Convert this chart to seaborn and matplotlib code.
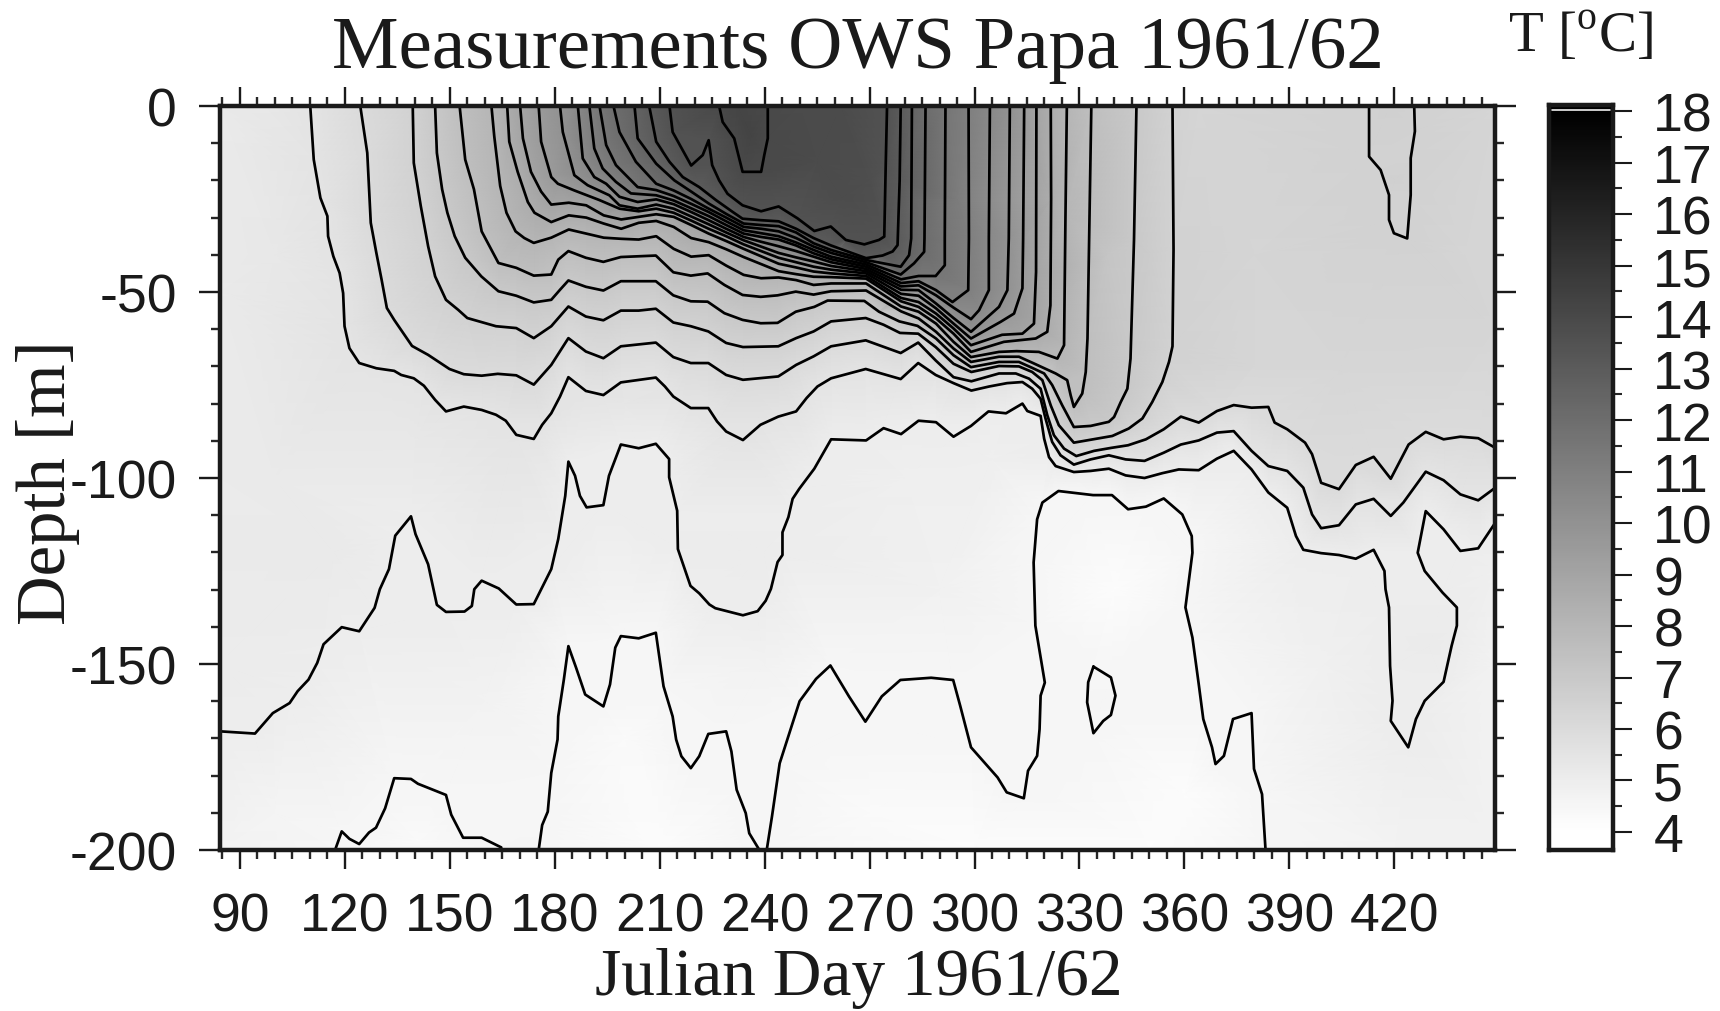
import numpy as np
import pandas as pd
import matplotlib
matplotlib.use("Agg")
import matplotlib.pyplot as plt
from matplotlib.ticker import MultipleLocator, FixedLocator
from matplotlib.colors import Normalize
import seaborn as sns

# Isotherms: (Julian day, depth in m)
T_4_5_a = [(117.2,-200),(119.1,-195),(121.3,-197),(124.1,-198.4),(126.9,-195.3),(128.9,-194),(131.5,-188.8),(134.1,-180.7),(138.9,-180.9),(140.9,-182.2),(148.9,-185.2),(150.4,-190.5),(153.8,-196.7),(159.1,-196.7),(164.7,-199.3),(164.7,-200)]
T_4_5_b = [(175.4,-200),(176.4,-193.3),(178,-189.7),(179,-179.3),(180.8,-170.3),(181,-164.1),(182.6,-154.2),(183.9,-145.2),(186.1,-151),(188.7,-158.2),(193.9,-161.4),(195.8,-155.5),(197.3,-145.6),(198.9,-142.5),(204,-143.1),(208.9,-141.6),(211.1,-156),(213.7,-164.1),(214.7,-170.3),(216.2,-174.8),(218.9,-178),(221.3,-174.8),(223.9,-168.8),(229,-168.1),(230.5,-173.5),(232,-183.8),(234.6,-190.1),(235.6,-195.5),(238.5,-200),(240.6,-200),(242.1,-191),(244.3,-176.7),(250,-160),(254.7,-154),(258.8,-150.4),(264.1,-158.7),(268.8,-165.5),(273.5,-158.7),(278.8,-154.3),(287.6,-153.7),(293.9,-154.3),(295.9,-161.2),(299,-172.4),(306.6,-180.5),(309.2,-184.5),(314.1,-186.1),(315.3,-178.7),(317.9,-174.7),(318.6,-167.5),(318.9,-158.5),(320.1,-155),(317.4,-139.7),(316.9,-122.7),(317.9,-111.1),(319.4,-106.6),(324,-103.5),(333.9,-104.6),(339.3,-104.6),(343.9,-108.4),(349,-107.7),(354.1,-105.5),(359.4,-109.8),(362.1,-115.6),(362.3,-120.1),(360.3,-134.8),(362.3,-142.9),(364.1,-155.4),(365.4,-164.8),(367.9,-172.4),(368.9,-176.9),(371.3,-174.7),(373.9,-164.8),(379.2,-163.2),(379.9,-178.2),(382.2,-185),(383.2,-200)]
T_4_5_c = [(334,-150.7),(339,-153.6),(340.3,-158.5),(339,-163.7),(336.8,-165.3),(334,-168.6),(332.2,-160.3),(332.5,-154.9),(334,-150.7)]
T_5_0 = [(84.3,-168.1),(94.3,-168.7),(99.4,-163.2),(104.2,-160.5),(106.5,-157.3),(109.6,-154.2),(112.1,-149.7),(113.9,-144.7),(119.1,-140.1),(124.1,-141.2),(128.5,-134.9),(130,-129.9),(132.6,-124.5),(134.4,-115.5),(138.9,-110.3),(140.2,-115.1),(143.8,-123.2),(146.3,-134.1),(148.9,-136),(154.2,-135.9),(156.3,-134.4),(157,-129.9),(159.1,-127.6),(164,-129.7),(169,-134),(174,-133.9),(179,-124.5),(181,-116.4),(183,-104.8),(183.9,-95.6),(185.8,-99.4),(187.2,-104.8),(189.1,-107.9),(193.9,-107.3),(195.5,-99.4),(198.9,-91),(204,-92),(208.9,-90.8),(212.7,-94.9),(212.7,-99.8),(215,-108.8),(215.2,-119.1),(218.8,-129),(221.3,-131),(224.2,-134),(225.9,-135),(233.8,-136.9),(238,-135.8),(240.3,-133),(241.8,-129.8),(243.7,-122.6),(245.1,-120.7),(245.1,-114.6),(246.8,-110.5),(248,-105.6),(249.9,-102.9),(254.2,-97.5),(259,-89.6),(269,-89.9),(274,-86.6),(279,-88.2),(284,-84.6),(289,-85),(294,-88.9),(299,-86),(304,-82.1),(309,-82.6),(313.7,-80),(315.1,-82),(318.9,-83.3),(319.9,-89.4),(321.3,-94.4),(323.2,-96.8),(328.4,-98.4),(333.2,-98.1),(338.4,-97.5),(343.2,-99.3),(348.6,-100),(353.7,-98.7),(358.4,-97.7),(364.1,-97.9),(369.3,-94.8),(374.1,-92.7),(379.2,-97.7),(384,-103.9),(389.4,-108),(391.9,-115.6),(394,-119.3),(399.1,-120.2),(404.2,-120.7),(409,-121.7),(414.1,-119.3),(417.2,-125),(417.5,-129.9),(418.5,-134.8),(418.8,-150.5),(419.5,-159.9),(419,-165.3),(424,-172.4),(426.2,-164.8),(428.7,-159.9),(434.1,-154.8),(436.4,-145.1),(437.9,-139.7),(437.9,-134.8),(433.8,-130.8),(428.7,-125),(426.7,-120.1),(429,-108.9),(434.1,-113.8),(438.9,-119.6),(444,-118.9),(448.9,-112)]
T_5_5 = [(110.1,0),(111.1,-14.4),(113,-24.7),(115,-29.6),(115.2,-35),(116.7,-40.4),(118.5,-44.9),(119.5,-50.3),(119.9,-59.2),(121.3,-65.1),(124.1,-69.1),(129,-70.5),(134.1,-71.2),(136.1,-72.3),(139.7,-73.2),(142.6,-75.2),(145.8,-79),(148.9,-82.1),(154,-80.8),(159.1,-81.7),(163.2,-83),(166,-84.6),(169,-88.4),(174,-89.5),(176.4,-85.7),(179,-82.6),(181.5,-78.1),(183.9,-72.9),(188.9,-76.6),(193.9,-77.7),(198.9,-74.3),(208.9,-73),(211.5,-75.4),(213.9,-78.1),(218.9,-81.2),(223.9,-81.2),(226.4,-84.8),(229,-87.5),(233.8,-89.8),(238.8,-85.7),(243.9,-83.5),(249,-82.1),(252,-78.5),(255.1,-75.4),(259,-73.2),(268.9,-70.7),(278.9,-73.4),(283.9,-69.1),(288.9,-72.3),(294,-74.5),(299.1,-76.5),(304.2,-75.4),(309.3,-74.5),(313.7,-74.2),(316.5,-76),(318.9,-78.7),(320.3,-84),(322.2,-90.3),(324.6,-93.9),(328.4,-96.4),(333.2,-95),(338.4,-93.9),(343.2,-95),(348.6,-95.4),(354.1,-93.2),(359,-91),(364.1,-89.9),(369.3,-87.8),(374.1,-87.4),(379.2,-92.7),(384,-96.8),(389.4,-98.1),(394,-102.6),(396.5,-109.8),(399.1,-113.5),(404.2,-112.7),(409,-107.1),(414.1,-105.6),(419,-110.2),(422.6,-106.6),(429,-98.3),(434.1,-100.6),(438.9,-104.4),(444,-106),(448.9,-102.6)]
T_6_0 = [(124.4,0),(126.4,-12.6),(127.4,-31.4),(129,-39.5),(130.5,-46.7),(132,-54.3),(134.1,-57.5),(139.2,-64.5),(143.8,-66.9),(149.9,-70.7),(154,-72.1),(159.1,-72.5),(163.7,-72),(169,-72.4),(174,-74.9),(179,-69.6),(183.9,-62.4),(188.9,-66),(193.9,-67.8),(198.9,-64.6),(208.9,-63.6),(213.9,-67.5),(218.9,-69.1),(223.9,-69.1),(229,-72.3),(233.8,-73.6),(243.9,-72.7),(249,-69.6),(254,-67.3),(259,-64.6),(268.9,-63),(278.9,-66.4),(283.9,-63.6),(288.9,-68.4),(294,-72.9),(299.1,-74),(307,-71.9),(311.8,-71.9),(315.6,-73.3),(318.9,-76),(320.8,-83.1),(322.7,-88.5),(325.6,-92.1),(329.1,-94.1),(334.2,-92.7),(339.1,-91.9),(343.9,-91.2),(349,-89.6),(354.1,-86.9),(359,-83.5),(364.1,-85.1),(369.3,-82),(374.1,-80.4),(379.2,-81.1),(384,-80.9),(385.8,-85.1),(389.4,-86.9),(394.5,-90.5),(396.5,-93.6),(399.1,-101.3),(404.2,-103),(409,-96.5),(414.1,-94.3),(419,-100.2),(424.1,-91),(429,-87.6),(434.1,-89.6),(438.9,-88.9),(444,-89.3),(448.9,-91.9)]
T_6_5 = [(139.4,0),(139.7,-15.3),(141.7,-26.9),(143.8,-37.7),(145.8,-45.8),(148.9,-52.1),(152.4,-54.8),(155,-57),(163.2,-59.2),(169,-59.7),(174,-62.4),(179,-59.2),(183.9,-53.9),(188.9,-56.6),(193.9,-57.6),(198.9,-55),(204,-55),(208.9,-54.5),(213.9,-58.2),(218.9,-59.2),(223.9,-60.6),(229,-63.7),(233.8,-64.8),(243.9,-64.6),(249,-62.4),(254,-60.6),(259,-57.9),(268.9,-57),(274,-58.8),(278.7,-61),(283.9,-61.2),(288.9,-64.8),(294,-69.3),(299.1,-71.5),(307,-69.9),(312.7,-70),(316.5,-71.5),(319.4,-73.7),(321.8,-80.5),(324.1,-85.8),(328.4,-90.5),(339.4,-88.7),(344.1,-86.7),(348,-84),(350.8,-79.6),(353.7,-74.2),(355.6,-68.8),(356.6,-64.6),(356.9,-38.6),(356.6,0)]
T_6_5_b = [(412.8,0),(412.8,-13.6),(416.1,-17.2),(418.5,-23.9),(418.5,-30.6),(419.9,-34.2),(423.7,-35.6),(424.7,-23.9),(424.7,-14),(425.9,-6.8),(425.7,0)]
T_7_0 = [(145.8,0),(146.3,-12.6),(147.8,-22.4),(149.3,-28.7),(151.4,-35),(154.4,-40.8),(159,-45.8),(163.9,-49.8),(169,-51),(174,-52.8),(179,-52.1),(181.5,-49.4),(183.9,-46.9),(188.9,-48.6),(193.9,-49.6),(198.9,-47.1),(208.9,-47.1),(213.9,-50.9),(218.9,-52.5),(223.7,-52.6),(228.5,-55.7),(233.7,-57.5),(238.9,-58.4),(243.7,-58.3),(248.9,-55.3),(254.2,-54),(258,-52.3),(268.5,-52.4),(272.7,-55.3),(278.5,-57.9),(283.7,-59.1),(289,-62.5),(294,-67),(299,-70.2),(307,-68.8),(312.7,-68.8),(316.5,-70.4),(319.9,-71.9),(322.2,-75),(325.1,-80.5),(328.4,-86.3),(333.2,-86),(338.4,-84.9),(339.9,-83.6),(341.8,-79.6),(343.7,-76),(344.6,-67.9),(345.6,-35.9),(346.3,0)]
T_7_5 = [(152.8,0),(154.4,-14.4),(156.9,-22.4),(159.1,-33.7),(163.9,-42.2),(169,-43.5),(174,-45.6),(179,-45.3),(181,-41.3),(183.9,-39),(188.9,-40.8),(193.9,-41.9),(198.9,-40.6),(208.9,-40.2),(213.9,-44.7),(218.9,-45.6),(223.7,-45),(228.5,-48.1),(233.7,-50.8),(238.9,-51.3),(243.7,-50.9),(248.9,-49.9),(254,-50.7),(259,-49.8),(269,-49.6),(279,-55.2),(284,-57.1),(289,-60.7),(294,-65.2),(299,-68.8),(307,-67.4),(312.7,-67.4),(316.5,-69),(323.2,-71.9),(326.5,-73.7),(327.5,-77.8),(328.4,-80.9),(330.8,-77.3),(331.8,-71.5),(332.3,-62.5),(333.4,0)]
T_8_0 = [(161.9,0),(162.7,-8.1),(164.4,-21.5),(166.2,-28.7),(168.8,-33.7),(171.3,-35.5),(174,-36.8),(179,-35.4),(184,-33.2),(189,-34.3),(194,-35.4),(199,-35.7),(204,-35.9),(209,-35),(214,-38.4),(219,-40.5),(224,-40.1),(229,-42.9),(234,-45.4),(239,-46.3),(244,-46.1),(249,-46.8),(254,-48.1),(259,-47.7),(269,-47.7),(279,-53.9),(284,-55.3),(289,-58.5),(294,-63.4),(299,-67.5),(307,-66.1),(312,-65.9),(318.4,-66.1),(323.7,-67.9),(325.6,-64.3),(326,-30),(326.4,0)]
T_8_5 = [(166.4,0),(167,-9.6),(169.4,-17.7),(172.3,-25.8),(174.2,-28.7),(179,-31.2),(184,-29.4),(189,-30),(194,-31.6),(199,-33),(204,-31.4),(209,-30.9),(214,-32.5),(219,-35.5),(224,-36.6),(229,-38.5),(234,-40.6),(239,-42.5),(244,-44.4),(249,-45.2),(254,-45.9),(259,-46),(269,-46.4),(279,-52.5),(284,-54),(289,-57.1),(294,-61.2),(299,-66.1),(308.4,-63.4),(317.5,-62.5),(320.8,-60.7),(321.7,-53.6),(321.9,-25),(321.8,0)]
T_9_0 = [(170.1,0),(170.9,-8.7),(173.2,-17.7),(176.1,-23),(179,-26.5),(184,-26),(189,-26.7),(194,-29.4),(199,-30.5),(204,-29.8),(209,-29.1),(214,-29.8),(219,-32),(224,-34.3),(229,-36.3),(234,-38.4),(239,-40.4),(244,-42.4),(249,-43.4),(254,-44.5),(259,-45),(269,-45.7),(279,-51.6),(284,-52.7),(289,-55.8),(294,-59.8),(299,-64.3),(307.9,-61.5),(313.7,-61.2),(317,-58.5),(317.6,-44.6),(317.7,0)]
T_9_5 = [(175.4,0),(176.1,-9.6),(179,-19.1),(180.9,-20.9),(185.6,-22.7),(192.8,-25.3),(198.5,-27.6),(204,-28.3),(209,-27.6),(214,-28.7),(219,-30.8),(224,-33),(229,-35),(234,-37.2),(239,-39),(244,-40.8),(249,-42),(254,-43.2),(259,-44),(269,-45),(279,-50.5),(284,-51),(289,-54.4),(294,-58.5),(299,-62.5),(307.5,-58),(311.3,-55.8),(313.7,-49),(313.9,-35.6),(314.2,0)]
T_10_0 = [(181.5,0),(182.3,-7),(185.6,-18.6),(189.4,-21.3),(195.6,-24),(198.5,-26.7),(203.7,-27.6),(209,-26.5),(214,-27.6),(219,-29.7),(224,-31.8),(229,-34),(234,-36.1),(239,-37.8),(244,-39.5),(249,-40.7),(254,-41.8),(259,-43),(269,-44.4),(279,-49.4),(284,-49.5),(289,-53.1),(294,-57),(299,-60.7),(307,-54),(309.4,-49.5),(309.8,-35.6),(310.1,0)]
T_10_5 = [(186.6,0),(188,-14.1),(191.3,-19.1),(194.7,-20.9),(198.5,-24.4),(203.7,-25.8),(209,-25.1),(214,-26.4),(219,-28.5),(224,-30.7),(229,-33),(234,-35.2),(239,-36.5),(244,-37.7),(249,-39),(254,-40.5),(259,-42),(269,-43.8),(279,-48.5),(284,-48.2),(289,-50.9),(294,-54.2),(299,-57.3),(301.3,-54.9),(304.1,-49.5),(304.1,-35.6),(304.4,0)]
T_11_0 = [(189.9,0),(191.3,-11.4),(193.7,-16.8),(197.5,-20.4),(201.8,-23.5),(209,-24),(214,-25.4),(219,-27.5),(224,-29.6),(229,-32),(234,-34.3),(239,-35.2),(244,-35.9),(249,-37.5),(254,-39.6),(259,-41.2),(269,-43.2),(279,-47.6),(284,-47.1),(289,-49.5),(293.7,-52.7),(298.2,-49.5),(298.4,-35.6),(298.3,0)]
T_11_5 = [(192.8,0),(194.7,-10.5),(197.5,-15.9),(203.7,-21.8),(209,-22.6),(214,-24.2),(219,-26.3),(224,-28.5),(229,-31),(234,-33.4),(239,-34.2),(244,-35),(249,-36.7),(254,-38.7),(259,-40.5),(269,-42.6),(279,-46.6),(284,-45.7),(288.9,-45.7),(291.5,-42.8),(291.5,-35.6),(291.7,0)]
T_12_0 = [(196.8,0),(198.5,-7),(203.2,-15),(209,-20.9),(214,-22.7),(219,-25),(224,-27.6),(229,-30),(234,-32.5),(239,-33),(244,-33.7),(249,-35.5),(254,-37.8),(259,-39.5),(269,-42),(278.9,-45.3),(282.7,-42.3),(285.6,-39.2),(285.7,-35.6),(286,0)]
T_12_5 = [(202.8,0),(203.7,-8.7),(209,-15.5),(214.2,-20),(219,-23),(224,-26.2),(229,-29),(234,-31.6),(239,-32),(244,-32.3),(249,-34),(254,-36.9),(259,-38.7),(269,-41.4),(278.9,-43.2),(281.3,-40.1),(281.9,-35.6),(282.1,0)]
T_13_0 = [(207,0),(209,-9.6),(212.8,-15),(216.6,-19.1),(221.3,-21.8),(226.1,-25.3),(230.9,-28.5),(233.7,-30.3),(239,-30.7),(244,-31),(249,-33),(254,-35.5),(259,-37.5),(269,-40.9),(273.7,-40.2),(276.6,-39.1),(278,-37.4),(278.6,-20),(278.9,0)]
T_13_5 = [(212.8,0),(213.7,-7),(219,-16),(222.3,-13.2),(224,-9.2),(225,-15.9),(227,-20),(229.4,-23.6),(233.7,-26.7),(239,-28.3),(244,-27),(249.4,-30.2),(254.2,-33.6),(258.9,-32.4),(263.2,-36),(268.5,-37.2),(272.7,-36),(274.2,-35.1),(274.6,-16.7),(275,0)]
T_14_0 = [(227,0),(228,-4.3),(231.3,-8.7),(233.7,-17.7),(239,-17.7),(239.9,-13.2),(240.9,-8.7),(240.9,0)]

ISOTHERMS = [(4.5,T_4_5_a),(4.5,T_4_5_b),(4.5,T_4_5_c),(5.0,T_5_0),(5.5,T_5_5),(6.0,T_6_0),(6.5,T_6_5),(6.5,T_6_5_b),
             (7.0,T_7_0),(7.5,T_7_5),(8.0,T_8_0),(8.5,T_8_5),(9.0,T_9_0),(9.5,T_9_5),(10.0,T_10_0),(10.5,T_10_5),
             (11.0,T_11_0),(11.5,T_11_5),(12.0,T_12_0),(12.5,T_12_5),(13.0,T_13_0),(13.5,T_13_5),(14.0,T_14_0)]

# Temperatures read from the grey shade between the isotherms: (day, depth, T)
SHADE_POINTS = [(84.3,0,5.15),(97,0,5.3),(84.3,-50,5.15),(84.3,-100,5.1),(84.3,-150,5.05),(84.3,-200,4.7),(100,-190,4.65),(100,-100,5.2),(100,-40,5.3),
                (117,-120,5.15),(140,-90,5.3),(200,-80,5.4),(160,-160,4.75),(240,-120,5.05),(240,-150,4.75),(290,-130,4.8),
                (141,-198,4.3),(170,-200,4.6),(210,-200,4.2),(200,-170,4.3),(270,-190,4.3),(300,-200,4.2),(340,-130,4.2),(350,-200,4.2),(360,-185,4.2),(336,-160,4.6),
                (280,-100,4.9),(305,-95,4.9),(330,-101,4.75),(400,-150,4.85),(420,-200,4.7),(448.8,-200,4.75),(448.8,-150,4.75),(448.8,-125,4.9),(430,-145,5.1),
                (232,0,14.2),(236,-8,14.25),(250,0,13.85),(262,0,13.85),(255,-15,13.85),(262,-25,13.8),(270,-20,13.7),
                (364,0,6.3),(448.8,0,6.3),(448.8,-60,6.3),(419,0,6.6),(420,-20,6.6),(380,-40,6.3),(405,-70,6.25),(440,-40,6.3),(380,-70,6.25),
                (338,-40,7.2),(338,-75,7.25),(350,-40,6.8),(290,-30,11.6),(283,-25,12.3),(295,-25,11.2)]

TICK_DAYS = [90,120,150,180,210,240,270,300,330,360,390,420]
TICK_DEPTHS = [0,-50,-100,-150,-200]
CBAR_TICKS = [4,5,6,7,8,9,10,11,12,13,14,15,16,17,18]

sns.set_theme(style="ticks")
plt.rcParams.update({"font.family":["Liberation Sans","DejaVu Sans"],"axes.unicode_minus":False,
                     "mathtext.fontset":"custom","mathtext.rm":"Liberation Serif"})
W,H = 1720,1012
fig = plt.figure(figsize=(W/100,H/100),dpi=100)
ax = fig.add_axes([220/W,1-851/H,(1495-220)/W,(851-107)/H])
cax = fig.add_axes([1549/W,1-851/H,(1613-1549)/W,(851-106)/H])

rows = []
for i,(lev,pts) in enumerate(ISOTHERMS):
    for d,z in pts:
        rows.append((i,lev,d,z))
lines = pd.DataFrame(rows,columns=["line","T","day","depth"])
shade = pd.DataFrame(SHADE_POINTS,columns=["day","depth","T"])
field = pd.concat([lines[["day","depth","T"]],shade]).drop_duplicates(["day","depth"])

norm = Normalize(4,18,clip=True)
ax.tripcolor(field["day"],field["depth"],field["T"],shading="gouraud",cmap="gray_r",norm=norm,rasterized=True)
sns.lineplot(data=lines,x="day",y="depth",units="line",estimator=None,sort=False,color="black",lw=1.95,legend=False,ax=ax)
ax.set_xlim(84.3,448.8)
ax.set_ylim(-200,0)
ax.set_xlabel("");ax.set_ylabel("")
ax.xaxis.set_major_locator(FixedLocator(TICK_DAYS))
ax.xaxis.set_minor_locator(MultipleLocator(5))
ax.yaxis.set_major_locator(FixedLocator(TICK_DEPTHS))
ax.yaxis.set_minor_locator(MultipleLocator(10))
ax.tick_params(axis="x",which="major",length=14,width=1.7,top=True,bottom=True,labelsize=38.5,pad=16,color="k",labelcolor="k")
ax.tick_params(axis="x",which="minor",length=6.5,width=1.7,top=True,bottom=True)
ax.tick_params(axis="y",which="major",length=15,width=1.7,left=True,right=True,labelsize=38.5,pad=16,color="k",labelcolor="k")
ax.tick_params(axis="y",which="minor",length=6.5,width=1.7,left=True,right=True)
for s in ax.spines.values():
    s.set_linewidth(3.2);s.set_color("k");s.set_visible(True)

cb_T = np.linspace(3.65,18.12,300)
cax.pcolormesh([0,1],cb_T,(0.5*(cb_T[1:]+cb_T[:-1]))[:,None],cmap="gray_r",norm=norm,rasterized=True)
cax.axhline(18.03,color="#dddddd",lw=1.3,xmin=0.04,xmax=0.96)
cax.set_ylim(3.65,18.12);cax.set_xlim(0,1)
cax.set_xticks([])
cax.yaxis.tick_right()
cax.yaxis.set_major_locator(FixedLocator(CBAR_TICKS))
cax.yaxis.set_minor_locator(MultipleLocator(0.5))
cax.tick_params(axis="y",which="major",length=14,width=1.5,labelsize=38.5,pad=15,color="k",labelcolor="k",right=True,left=False)
cax.tick_params(axis="y",which="minor",length=6.5,width=1.5,right=True,left=False)
for s in cax.spines.values():
    s.set_linewidth(3.2);s.set_color("k");s.set_visible(True)

SERIF = ["Liberation Serif","DejaVu Serif"]
fig.text(858/W,1-50/H,"Measurements OWS Papa 1961/62",family=SERIF,size=54,ha="center",va="center",color="k")
fig.text(859/W,1-979/H,"Julian Day 1961/62",family=SERIF,size=48.5,ha="center",va="center",color="k")
fig.text(48/W,1-483/H,"Depth [m]",family=SERIF,size=49.5,rotation=90,ha="center",va="center",color="k")
fig.text(1580/W,1-37/H,r"T [$^{\mathrm{o}}$C]",family=SERIF,size=41,ha="center",va="center",color="k")
fig.savefig("out.png",dpi=100)
